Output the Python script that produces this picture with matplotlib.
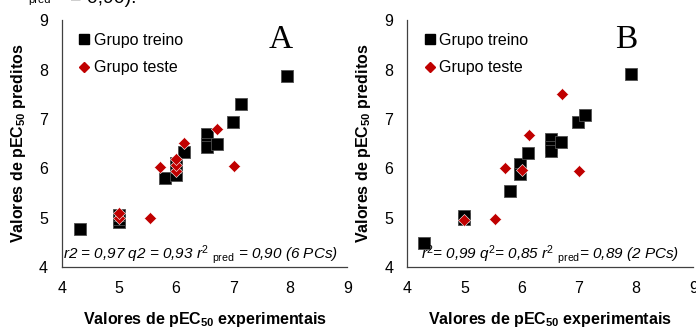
import matplotlib
matplotlib.use("Agg")
import matplotlib.pyplot as plt
from matplotlib.lines import Line2D

plt.rcParams['font.family'] = ['Liberation Sans', 'DejaVu Sans']
plt.rcParams['mathtext.fontset'] = 'custom'
plt.rcParams['mathtext.rm'] = 'Liberation Sans'
plt.rcParams['mathtext.it'] = 'Liberation Sans:italic'
plt.rcParams['mathtext.bf'] = 'Liberation Sans:bold'

# painel A
train_x_a = [4.31, 5.0, 5.0, 5.0, 5.81, 6.0, 6.0, 6.0, 6.13, 6.54, 6.54, 6.54, 6.72, 7.0, 7.13, 7.94]
train_y_a = [4.78, 4.91, 4.97, 5.05, 5.80, 5.87, 6.02, 6.10, 6.33, 6.70, 6.50, 6.43, 6.49, 6.93, 7.31, 7.86]
test_x_a = [5.0, 5.0, 5.55, 5.72, 6.0, 6.0, 6.0, 6.13, 6.71, 7.02]
test_y_a = [5.0, 5.10, 5.0, 6.03, 5.95, 6.07, 6.18, 6.51, 6.80, 6.05]

# painel B
train_x_b = [4.30, 5.0, 5.0, 5.79, 5.98, 5.98, 6.12, 6.51, 6.51, 6.51, 6.69, 6.98, 7.11, 7.91]
train_y_b = [4.49, 4.97, 5.04, 5.54, 6.09, 5.89, 6.31, 6.60, 6.43, 6.35, 6.54, 6.93, 7.09, 7.92]
test_x_b = [5.0, 5.53, 5.71, 6.0, 6.13, 6.71, 7.01]
test_y_b = [4.95, 4.98, 6.01, 5.97, 6.67, 7.51, 5.94]

ticks = [4, 5, 6, 7, 8, 9]
stats_a = "r2 = 0,97 q2 = 0,93 r$^{2}$ $_{\\mathrm{pred}}$ = 0,90 (6 PCs)"
stats_b = "r$^{2}$= 0,99 q$^{2}$= 0,85 r$^{2}$ $_{\\mathrm{pred}}$= 0,89 (2 PCs)"

red = '#C00000'
fig = plt.figure(figsize=(6.96, 3.31), dpi=100)


def panel(rect, tx, ty, sx, sy, letter, stats, stats_x):
    ax = fig.add_axes(rect)
    ax.scatter(tx, ty, marker='s', s=68, c='black', edgecolors='#505050', linewidths=0.6, zorder=3)
    ax.scatter(sx, sy, marker='D', s=38, c=red, edgecolors='white', linewidths=0.4, zorder=4)
    ax.set_xlim(4, 9)
    ax.set_ylim(4, 9)
    ax.set_xticks(ticks)
    ax.set_yticks(ticks)
    ax.tick_params(length=0, labelsize=11.5, pad=10)
    for s in ['top', 'right']:
        ax.spines[s].set_visible(False)
    for s in ['left', 'bottom']:
        ax.spines[s].set_color('#404040')
        ax.spines[s].set_linewidth(0.9)
    ax.set_xlabel("Valores de pEC$_{\\mathbf{50}}$ experimentais", fontsize=11.5,
                  fontweight='bold', labelpad=10)
    ax.set_ylabel("Valores de pEC$_{\\mathbf{50}}$ preditos", fontsize=11.5,
                  fontweight='bold', labelpad=8)
    handles = [Line2D([], [], marker='s', ls='', color='black', markersize=6.5),
               Line2D([], [], marker='D', ls='', color=red, markersize=5)]
    ax.legend(handles, ['Grupo treino', 'Grupo teste'], loc='upper left',
              bbox_to_anchor=(0.0, 1.008), frameon=False, fontsize=11.5,
              handletextpad=0.1, labelspacing=0.8, handlelength=1.0)
    ax.text(0.765, 0.92, letter, transform=ax.transAxes, fontsize=24,
            family='Liberation Serif', ha='center', va='center')
    ax.text(stats_x, 0.05, stats, transform=ax.transAxes, fontsize=11,
            fontstyle='italic', ha='left', va='center', clip_on=False)
    return ax


panel([0.089, 0.193, 0.41, 0.746], train_x_a, train_y_a, test_x_a, test_y_a, 'A', stats_a, 0.003)
panel([0.585, 0.193, 0.411, 0.746], train_x_b, train_y_b, test_x_b, test_y_b, 'B', stats_b, 0.048)

# texto cortado no topo da imagem
fig.text(0.04, 0.99, "pred", fontsize=8, va='baseline')
fig.text(0.1, 0.99, "= 0,90).", fontsize=14, va='baseline')

fig.savefig("out.png", dpi=100)
